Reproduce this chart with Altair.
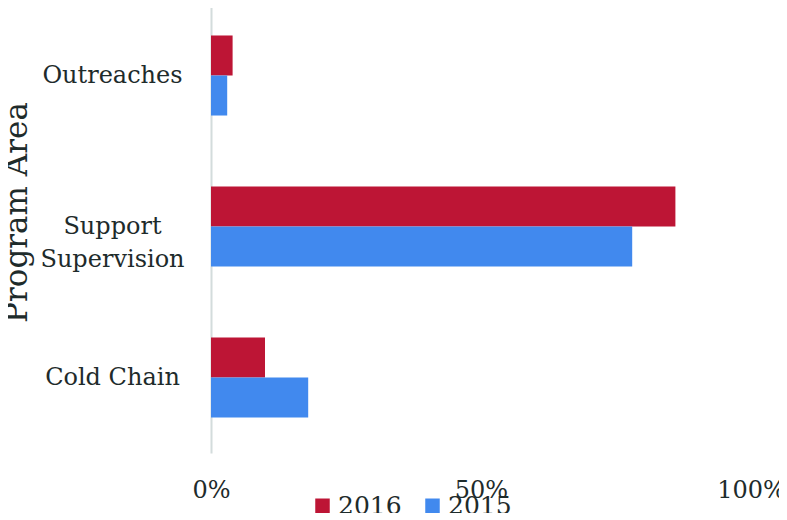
import altair as alt
import pandas as pd

categories = ["Outreaches", "Support Supervision", "Cold Chain"]
years = ["2016", "2015"]
values_2016 = [4, 86, 10]
values_2015 = [3, 78, 18]
colors = ["#bd1535", "#4189ee"]
x_ticks = [0, 50, 100]

rows = []
for c, v16, v15 in zip(categories, values_2016, values_2015):
    rows.append({"area": c, "year": "2016", "value": v16})
    rows.append({"area": c, "year": "2015", "value": v15})
df = pd.DataFrame(rows)

FONT = "DejaVu Serif"
TXT = "#1e2b2b"

chart = alt.Chart(df).mark_bar().encode(
    y=alt.Y("area:N", sort=categories,
            scale=alt.Scale(range=[-8, 445], paddingInner=0.47, paddingOuter=0.235),
            axis=alt.Axis(title="Program Area", titleFont=FONT, titleFontSize=31,
                          titleFontWeight="normal", titleColor=TXT,
                          titleAngle=270, titleX=-194, titleY=204,
                          titleAlign="center", titleBaseline="middle",
                          labelFont=FONT, labelFontSize=24, labelColor=TXT,
                          labelAlign="center", labelBaseline="middle",
                          labelPadding=99, labelLineHeight=33, labelLimit=300,
                          labelExpr="datum.value == 'Support Supervision' ? ['Support', 'Supervision'] : datum.value",
                          ticks=False, tickSize=0, domainColor="#d3dcdc", domainWidth=2,
                          grid=False)),
    yOffset=alt.YOffset("year:N", sort=years, scale=alt.Scale(paddingInner=0, paddingOuter=0)),
    x=alt.X("value:Q", scale=alt.Scale(domain=[0, 100]),
            axis=alt.Axis(title=None, values=x_ticks, labelExpr="datum.value + '%'",
                          labelFont=FONT, labelFontSize=24, labelColor=TXT,
                          labelBaseline="middle", labelPadding=37,
                          ticks=False, domain=False, grid=False, labelFlush=False)),
    color=alt.Color("year:N", sort=years,
                    scale=alt.Scale(domain=years, range=colors),
                    legend=alt.Legend(title=None, orient="none", direction="horizontal",
                                      legendX=99, legendY=485, symbolType="square",
                                      symbolSize=210, symbolStrokeWidth=0,
                                      labelFont=FONT, labelFontSize=25, labelColor=TXT,
                                      labelOffset=3, columnPadding=18, padding=0)),
).properties(
    width=540, height=445,
    padding={"left": 203, "top": 0, "right": 28, "bottom": 60},
    autosize=alt.AutoSizeParams(type="none"),
).configure_view(stroke=None)

chart.save("out.html", embed_options={"renderer": "svg", "actions": False})
